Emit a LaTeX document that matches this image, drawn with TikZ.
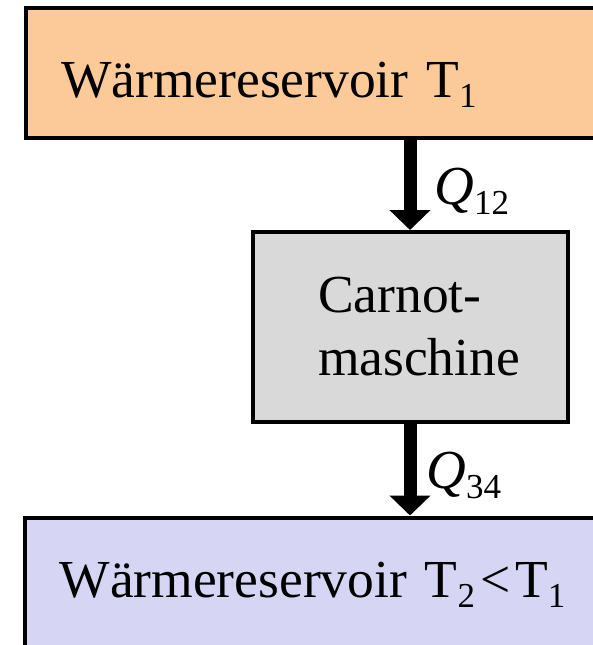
\documentclass[tikz,border=0pt]{standalone}
\usepackage{fontspec}
\setmainfont{Liberation Serif}
\usepackage{tikz}
\usetikzlibrary{arrows.meta, positioning}

\definecolor{hotfill}{RGB}{252,202,152}
\definecolor{machfill}{RGB}{217,217,217}
\definecolor{coldfill}{RGB}{214,214,244}
\newcommand{\lowsub}[1]{\raisebox{-10pt}{\fontsize{35}{35}\selectfont #1}}

\begin{document}
\begin{tikzpicture}[
				x=1pt, y=-1pt,
				res/.style={draw, line width=4pt, anchor=north west, inner xsep=35pt, inner ysep=0pt, text width=630pt, align=left, font=\fontsize{53.5}{63}\selectfont},
				mach/.style={draw, line width=4pt, fill=machfill, minimum width=315pt, minimum height=190pt, text width=184pt, align=left, font=\fontsize{53.5}{63}\selectfont},
				heat/.style={line width=13pt, -{Triangle[length=20pt, width=40pt]}},
				qlab/.style={anchor=west, inner sep=0pt, font=\fontsize{55}{63}\selectfont}
				]
				\useasboundingbox (0,0) rectangle (593,645);
				\node[res, fill=hotfill, minimum height=130pt, text height=49pt, text depth=0pt] (hot) at (24,6) {Wärmereservoir T\lowsub{1}};
				\node[mach] (carnot) at (410,327) {Carnot-\\maschine};
				\node[res, fill=coldfill, minimum height=160pt, text height=20pt, text depth=20pt] (cold) at (22.5,515.5) {Wärmereservoir T\lowsub{2}\kern5pt<\kern5pt T\lowsub{1}};
				\draw[heat] (carnot.north |- hot.south) -- (carnot.north) node[qlab, midway, xshift=18pt, yshift=-6pt] {\textit{Q}\lowsub{12}};
				\draw[heat] (carnot.south) -- (carnot.south |- cold.north) node[qlab, midway, xshift=10pt, yshift=-6pt] {\textit{Q}\lowsub{34}};
			\end{tikzpicture}
\end{document}
